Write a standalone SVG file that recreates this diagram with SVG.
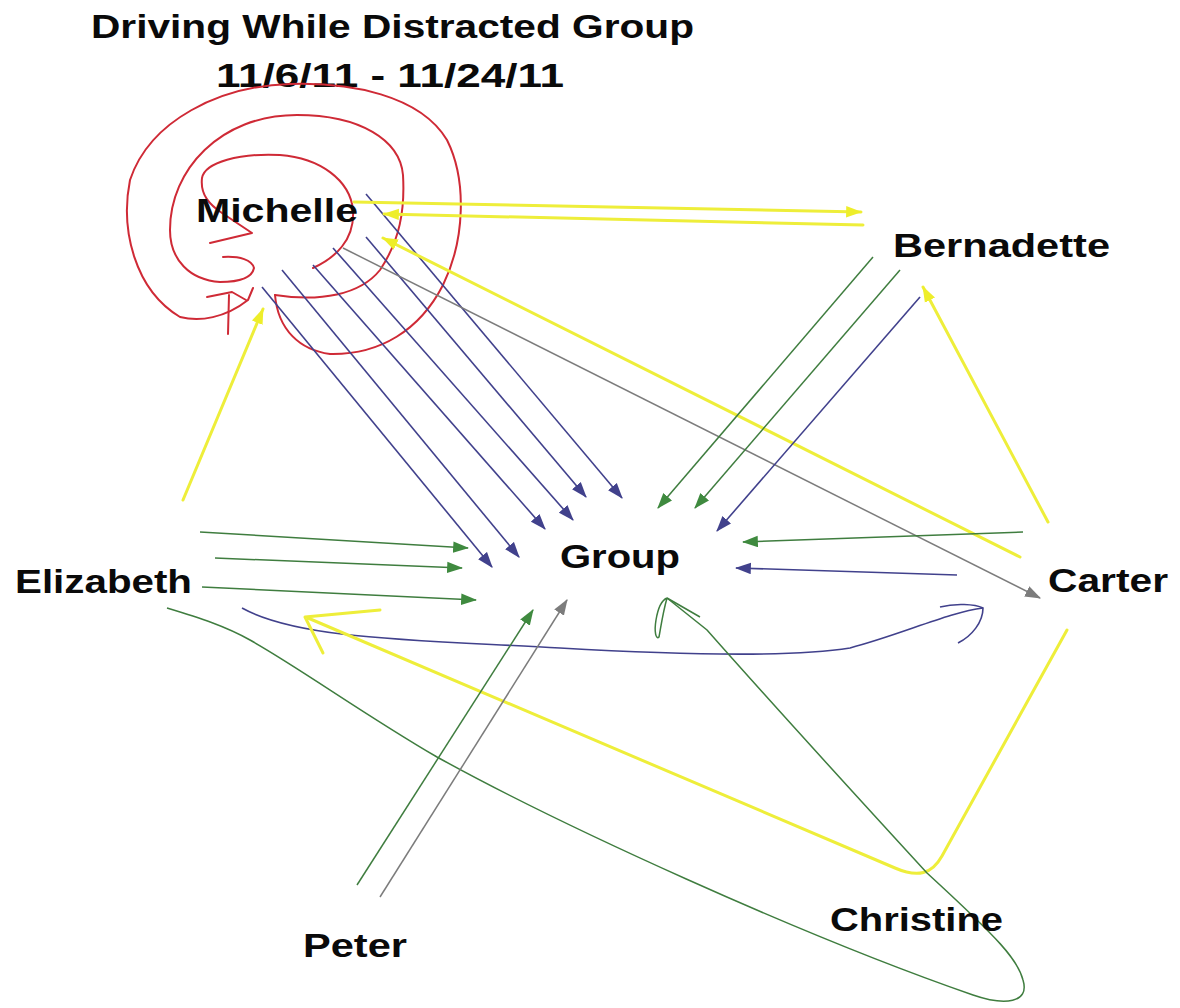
<svg xmlns="http://www.w3.org/2000/svg" width="1180" height="1008" viewBox="0 0 1180 1008">
  <style>
    .lbl { font-family: "Liberation Sans", Arial, Helvetica, sans-serif; font-weight: bold; font-size: 34px; fill: #0a0a0a; }
    .blue { fill: none; stroke: #41418c; stroke-width: 1.6; }
    .green { fill: none; stroke: #3f7d3f; stroke-width: 1.5; }
    .gray { fill: none; stroke: #7c7c7c; stroke-width: 1.5; }
    .yellow { fill: none; stroke: #eeee3a; stroke-width: 3; stroke-linecap: round; stroke-linejoin: round; }
    .red { fill: none; stroke: #cf2a36; stroke-width: 2; stroke-linecap: round; stroke-linejoin: round; }
  </style>
  <defs>
    <marker id="ahBlue" markerUnits="userSpaceOnUse" markerWidth="16" markerHeight="12" viewBox="0 0 14 10" refX="13" refY="5" orient="auto">
      <path d="M0,0 L14,5 L0,10 z" fill="#41418c"/>
    </marker>
    <marker id="ahGreen" markerUnits="userSpaceOnUse" markerWidth="16" markerHeight="12" viewBox="0 0 14 10" refX="13" refY="5" orient="auto">
      <path d="M0,0 L14,5 L0,10 z" fill="#3f8a3f"/>
    </marker>
    <marker id="ahGray" markerUnits="userSpaceOnUse" markerWidth="16" markerHeight="12" viewBox="0 0 14 10" refX="13" refY="5" orient="auto">
      <path d="M0,0 L14,5 L0,10 z" fill="#7c7c7c"/>
    </marker>
    <marker id="ahYellow" markerUnits="userSpaceOnUse" markerWidth="16" markerHeight="12" viewBox="0 0 14 10" refX="13" refY="5" orient="auto">
      <path d="M0,0 L14,5 L0,10 z" fill="#eeee2a"/>
    </marker>
  </defs>

  <rect width="1180" height="1008" fill="#ffffff"/>

  <!-- title -->
  <g id="title">
    <text class="lbl" x="91" y="38" textLength="603" lengthAdjust="spacingAndGlyphs">Driving While Distracted Group</text>
    <text class="lbl" x="216" y="87" textLength="348" lengthAdjust="spacingAndGlyphs">11/6/11 - 11/24/11</text>
  </g>

  <!-- connectors -->
  <g id="connectors">
    <!-- Michelle self-loop spiral -->
    <path class="red" d="M313,268 C335,258 355,240 353,210 C350,180 320,158 280,155 C240,153 205,162 202,178 C200,195 210,205 222,213 L252,233 L210,243"/>
    <path class="red" d="M223,257 C240,256 252,260 254,268 C252,278 240,282 220,282 C190,280 170,260 170,230 C170,170 220,115 297,115 C360,115 400,140 403,175 C405,210 400,240 380,270 C360,295 320,302 275,295"/>
    <path class="red" d="M275,295 C278,330 300,350 330,354 C380,355 420,330 443,285 C465,240 467,180 447,140 C420,95 350,82 290,84 C220,86 150,120 130,180 C120,230 135,290 180,317 C200,322 225,318 248,300 L253,288"/>
    <path class="red" d="M207,297 L232,292 L246,300 M229,295 L228,334"/>

    <!-- Michelle -> Group (blue) -->
    <line class="blue" x1="366" y1="194" x2="622" y2="498" marker-end="url(#ahBlue)"/>
    <line class="blue" x1="366" y1="237" x2="586" y2="497" marker-end="url(#ahBlue)"/>
    <line class="blue" x1="333" y1="248" x2="573" y2="520" marker-end="url(#ahBlue)"/>
    <line class="blue" x1="313" y1="265" x2="545" y2="529" marker-end="url(#ahBlue)"/>
    <line class="blue" x1="282" y1="270" x2="519" y2="557" marker-end="url(#ahBlue)"/>
    <line class="blue" x1="262" y1="287" x2="492" y2="567" marker-end="url(#ahBlue)"/>

    <!-- Michelle -> Carter (gray) -->
    <line class="gray" x1="343" y1="248" x2="1040" y2="598" marker-end="url(#ahGray)"/>

    <!-- Michelle <-> Bernadette (yellow) -->
    <line class="yellow" x1="354" y1="202" x2="861" y2="212" marker-end="url(#ahYellow)"/>
    <line class="yellow" x1="863" y1="225" x2="384" y2="214" marker-end="url(#ahYellow)"/>

    <!-- Carter -> Michelle (yellow) -->
    <line class="yellow" x1="1020" y1="557" x2="383" y2="238" marker-end="url(#ahYellow)"/>

    <!-- Elizabeth -> Michelle (yellow) -->
    <line class="yellow" x1="183" y1="500" x2="263" y2="309" marker-end="url(#ahYellow)"/>

    <!-- Bernadette -> Group -->
    <line class="green" x1="873" y1="257" x2="658" y2="508" marker-end="url(#ahGreen)"/>
    <line class="green" x1="900" y1="270" x2="695" y2="508" marker-end="url(#ahGreen)"/>
    <line class="blue" x1="920" y1="297" x2="717" y2="531" marker-end="url(#ahBlue)"/>

    <!-- Carter -> Bernadette (yellow) -->
    <line class="yellow" x1="1048" y1="522" x2="923" y2="287" marker-end="url(#ahYellow)"/>

    <!-- Carter -> Group -->
    <line class="green" x1="1023" y1="532" x2="743" y2="542" marker-end="url(#ahGreen)"/>
    <line class="blue" x1="957" y1="575" x2="736" y2="568" marker-end="url(#ahBlue)"/>

    <!-- Elizabeth -> Group (green) -->
    <line class="green" x1="200" y1="532" x2="468" y2="548" marker-end="url(#ahGreen)"/>
    <line class="green" x1="215" y1="558" x2="462" y2="568" marker-end="url(#ahGreen)"/>
    <line class="green" x1="202" y1="587" x2="476" y2="600" marker-end="url(#ahGreen)"/>

    <!-- Elizabeth -> Carter (blue, hand-drawn head) -->
    <path class="blue" d="M242,608 C300,640 420,640 560,648 C700,656 800,656 850,648 C900,635 950,612 983,608"/>
    <path class="blue" d="M940,607 C955,603 975,604 983,608 C983,622 972,636 958,643"/>

    <!-- Carter -> Elizabeth (yellow, via Christine) -->
    <path class="yellow" d="M1067,630 L942,856 C932,874 918,878 895,868 L308,618"/>
    <path class="yellow" d="M380,610 L305,617 L323,653"/>

    <!-- Elizabeth -> Group (green loop round Christine) -->
    <path class="green" d="M167,608 C200,618 225,626 250,640 C300,668 360,712 437,757 C560,825 800,935 973,995 C1005,1006 1030,1003 1023,980 C1018,960 1000,940 927,873 C860,800 760,690 707,630 L667,598"/>
    <path class="green" d="M667,598 L700,617 M667,598 C663,612 661,626 659,637 C656,640 654,632 656,620 C658,608 662,600 667,598"/>

    <!-- Peter -> Group -->
    <line class="green" x1="357" y1="885" x2="533" y2="610" marker-end="url(#ahGreen)"/>
    <line class="gray" x1="380" y1="897" x2="567" y2="600" marker-end="url(#ahGray)"/>
  </g>

  <!-- nodes -->
  <g id="node-michelle"><text class="lbl" x="196" y="222" textLength="162" lengthAdjust="spacingAndGlyphs">Michelle</text></g>
  <g id="node-bernadette"><text class="lbl" x="893" y="257" textLength="217" lengthAdjust="spacingAndGlyphs">Bernadette</text></g>
  <g id="node-group"><text class="lbl" x="560" y="568" textLength="120" lengthAdjust="spacingAndGlyphs">Group</text></g>
  <g id="node-elizabeth"><text class="lbl" x="15" y="593" textLength="177" lengthAdjust="spacingAndGlyphs">Elizabeth</text></g>
  <g id="node-carter"><text class="lbl" x="1048" y="592" textLength="120" lengthAdjust="spacingAndGlyphs">Carter</text></g>
  <g id="node-peter"><text class="lbl" x="303" y="957" textLength="104" lengthAdjust="spacingAndGlyphs">Peter</text></g>
  <g id="node-christine"><text class="lbl" x="830" y="931" textLength="173" lengthAdjust="spacingAndGlyphs">Christine</text></g>
</svg>
